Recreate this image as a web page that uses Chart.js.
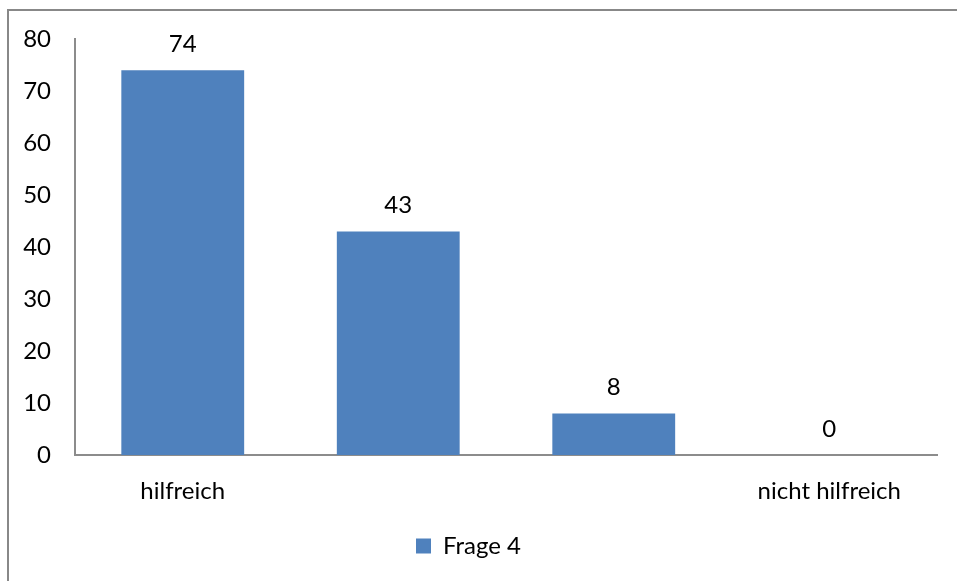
<!DOCTYPE html>
<html>
<head>
<meta charset="utf-8">
<script src="https://cdn.jsdelivr.net/npm/chart.js@4/dist/chart.umd.min.js"></script>
<style>
  html, body { margin: 0; padding: 0; background: #fff; }
  #wrap { position: relative; width: 957px; height: 581px; }
</style>
</head>
<body>
<div id="wrap"><canvas id="chart" width="957" height="581"></canvas></div>
<script>
// Data
const categories = ['hilfreich', '', '', 'nicht hilfreich'];
const seriesName = 'Frage 4';
const values = [74, 43, 8, 0];
const yTicks = [0, 10, 20, 30, 40, 50, 60, 70, 80];

const FONT = 'Lato, "Open Sans", sans-serif';
const FS = 24;
const BAR = '#4F81BD';
const AXIS = '#8c8c8c';

// outer frame like the office chart area
const framePlugin = {
  id: 'frame',
  beforeDraw(chart) {
    const c = chart.ctx;
    c.save();
    c.fillStyle = '#fff';
    c.fillRect(0, 0, chart.width, chart.height);
    c.strokeStyle = '#888';
    c.lineWidth = 2;
    c.strokeRect(8, 10, chart.width + 20, chart.height + 20);
    c.restore();
  }
};

// value labels above bars
const valueLabels = {
  id: 'valueLabels',
  afterDatasetsDraw(chart) {
    const c = chart.ctx;
    const meta = chart.getDatasetMeta(0);
    c.save();
    c.font = FS + 'px ' + FONT;
    c.fillStyle = '#000';
    c.textAlign = 'center';
    c.textBaseline = 'alphabetic';
    meta.data.forEach((bar, i) => {
      c.fillText(String(values[i]), bar.x, bar.y - 18);
    });
    c.restore();
  }
};

new Chart(document.getElementById('chart'), {
  type: 'bar',
  data: {
    labels: categories,
    datasets: [{
      label: seriesName,
      data: values,
      backgroundColor: BAR,
      borderWidth: 0,
      barPercentage: 0.57,
      categoryPercentage: 1
    }]
  },
  options: {
    responsive: false,
    animation: false,
    layout: { padding: { top: 39, right: 20, left: 0, bottom: 13 } },
    scales: {
      x: {
        grid: { display: false, drawTicks: false },
        border: { display: true, color: AXIS, width: 2 },
        ticks: { color: '#000', font: { family: FONT, size: FS }, padding: 22, autoSkip: false, maxRotation: 0 },
        afterFit: (s) => { s.height = 69; }
      },
      y: {
        min: 0, max: 80,
        afterBuildTicks: (s) => { s.ticks = yTicks.map(v => ({ value: v })); },
        grid: { display: false, drawTicks: false },
        border: { display: true, color: AXIS, width: 2 },
        ticks: { color: '#000', font: { family: FONT, size: FS }, padding: 24 },
        afterFit: (s) => { s.width = 75; }
      }
    },
    plugins: {
      legend: {
        position: 'bottom',
        labels: {
          color: '#000',
          font: { family: FONT, size: FS },
          boxWidth: 15, boxHeight: 15, padding: 10
        }
      },
      tooltip: { enabled: false }
    }
  },
  plugins: [framePlugin, valueLabels]
});
</script>
</body>
</html>
